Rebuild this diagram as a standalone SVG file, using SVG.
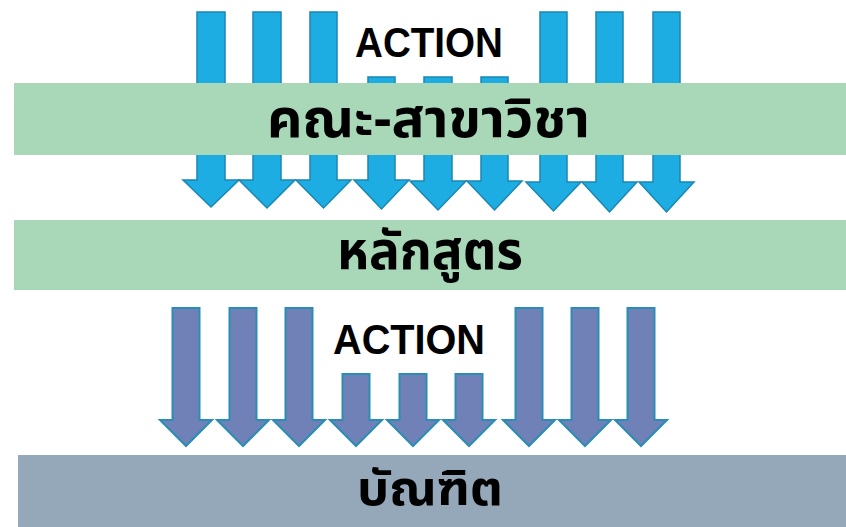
<svg xmlns="http://www.w3.org/2000/svg" width="846" height="527" viewBox="0 0 846 527">
<style>
.a1{fill:#1EADE2;stroke:#1987B3;stroke-width:1.5}
.a2{fill:#6F81B6;stroke:#2A8DB3;stroke-width:2}
.bar{fill:#A8D8B8}
.bar2{fill:#95A8BA}
.en{font-family:"Liberation Sans",Arial,sans-serif;font-weight:bold;fill:#000}
.th{font-family:"Noto Sans Thai","Noto Serif Thai","Loma","Garuda","Tlwg Typist",sans-serif;font-weight:bold;fill:#000}
</style>
<g id="connectors">
<g id="top-arrows">
<path class="a1" d="M197,12H225V180H239L211,207L183,180H197Z"/>
<path class="a1" d="M253,12H281V180H295L267,208L239,180H253Z"/>
<path class="a1" d="M310,12H337V180H351L323.5,208L296,180H310Z"/>
<path class="a1" d="M368,77H395V180H409L381.5,209L354,180H368Z"/>
<path class="a1" d="M424,77H452V181H466L438,210L410,181H424Z"/>
<path class="a1" d="M481,77H508V181H522L494.5,210L467,181H481Z"/>
<path class="a1" d="M540,12H567V182H581L553.5,211L526,182H540Z"/>
<path class="a1" d="M596,12H623V182H637L609.5,212L582,182H596Z"/>
<path class="a1" d="M653,12H680V182H694L666.5,212L639,182H653Z"/>
</g>
<g id="bottom-arrows">
<path class="a2" d="M172.5,308H199.5V420H212L186,446L160,420H172.5Z"/>
<path class="a2" d="M229.5,308H256.5V420H269L243,446L217,420H229.5Z"/>
<path class="a2" d="M285.5,308H312.5V420H325L299,446L273,420H285.5Z"/>
<path class="a2" d="M342.5,374H369.5V420H382L356,446L330,420H342.5Z"/>
<path class="a2" d="M399.5,374H426.5V420H439L413,446L387,420H399.5Z"/>
<path class="a2" d="M455.5,374H482.5V420H495L469,446L443,420H455.5Z"/>
<path class="a2" d="M515.5,308H542.5V420H555L529,446L503,420H515.5Z"/>
<path class="a2" d="M571.5,308H598.5V420H611L585,446L559,420H571.5Z"/>
<path class="a2" d="M627.5,308H654.5V420H667L641,446L615,420H627.5Z"/>
</g>
</g>
<text class="en" x="355" y="57" font-size="42" textLength="148" lengthAdjust="spacingAndGlyphs">ACTION</text>
<g id="faculty">
<rect class="bar" x="14" y="83" width="832" height="72"/>
<text class="th" x="267" y="137" font-size="54" textLength="323" lengthAdjust="spacingAndGlyphs">คณะ-สาขาวิชา</text>
</g>
<g id="curriculum">
<rect class="bar" x="14" y="220" width="832" height="70"/>
<text class="th" x="337" y="269" font-size="54" textLength="186" lengthAdjust="spacingAndGlyphs">หลักสูตร</text>
</g>
<text class="en" x="333" y="354" font-size="42" textLength="152" lengthAdjust="spacingAndGlyphs">ACTION</text>
<g id="graduate">
<rect class="bar2" x="18" y="455" width="828" height="72"/>
<text class="th" x="357" y="505" font-size="48" textLength="146" lengthAdjust="spacingAndGlyphs">บัณฑิต</text>
</g>
</svg>
